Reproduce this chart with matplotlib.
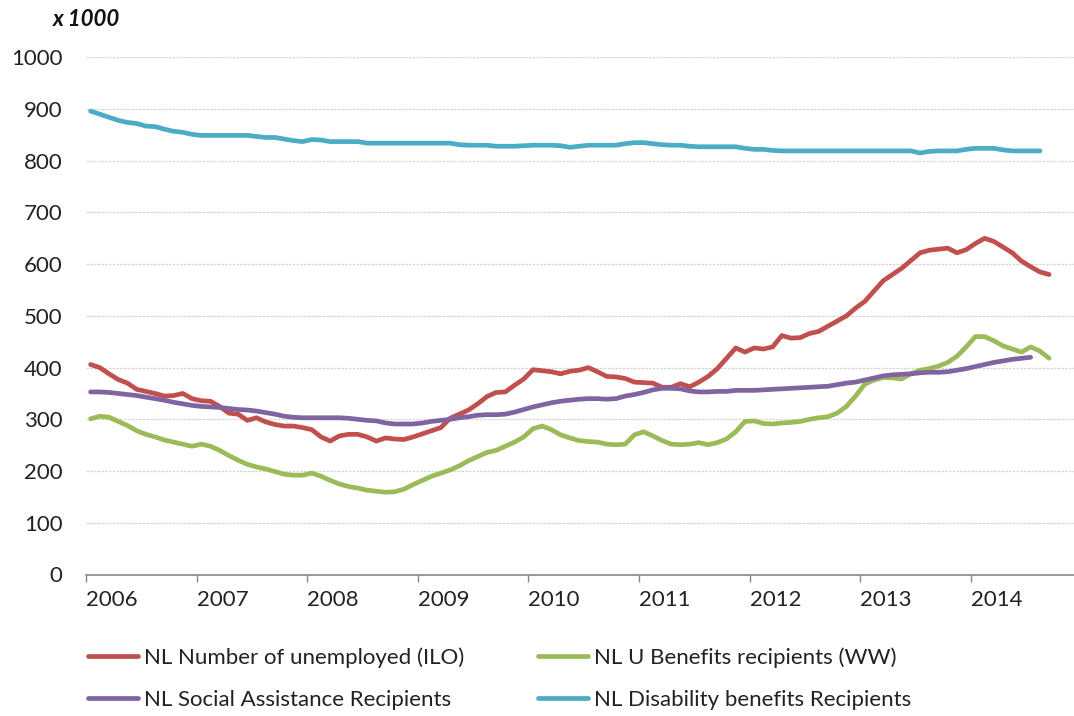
import numpy as np
import matplotlib
matplotlib.use('Agg')
import matplotlib.pyplot as plt
import matplotlib.transforms as mtransforms

# monthly series, Jan 2006 onwards (x 1000)
unemployed_ilo = [406, 400, 388, 377, 370, 358, 354, 350, 345, 346, 350, 340,
                  336, 335, 325, 312, 310, 298, 303, 295, 290, 287, 287, 284,
                  280, 266, 258, 268, 271, 271, 266, 258, 264, 262, 261, 266,
                  272, 278, 284, 302, 310, 318, 330, 344, 352, 353, 366, 378,
                  396, 394, 392, 388, 393, 395, 400, 392, 383, 382, 379, 372,
                  371, 370, 362, 362, 369, 363, 372, 383, 398, 418, 438, 430,
                  438, 436, 440, 462, 457, 458, 466, 470, 480, 490, 500, 515,
                  528, 548, 568, 580, 592, 607, 622, 627, 629, 631, 622, 628,
                  640, 650, 644, 633, 622, 606, 595, 585, 580]

u_benefits_ww = [301, 306, 304, 296, 288, 278, 271, 266, 260, 256, 252, 248,
                 252, 248, 240, 230, 221, 213, 208, 204, 199, 194, 192, 192,
                 196, 190, 182, 175, 170, 167, 163, 161, 159, 160, 165, 174,
                 182, 190, 196, 202, 210, 220, 228, 236, 240, 248, 256, 266,
                 282, 287, 280, 270, 264, 259, 257, 256, 252, 251, 252, 270,
                 276, 268, 259, 252, 251, 252, 255, 251, 255, 262, 276, 296,
                 297, 292, 291, 293, 294, 296, 300, 303, 305, 312, 325, 345,
                 368, 376, 381, 380, 378, 388, 395, 398, 403, 410, 422, 440,
                 460, 460, 452, 442, 436, 430, 440, 432, 418]

social_assistance = [353, 353, 352, 350, 348, 346, 343, 340, 337, 333, 330, 327,
                     325, 324, 323, 321, 319, 318, 316, 313, 310, 306, 304, 303,
                     303, 303, 303, 303, 302, 300, 298, 297, 293, 291, 291, 291,
                     293, 296, 298, 300, 303, 305, 308, 309, 309, 310, 314, 319,
                     324, 328, 332, 335, 337, 339, 340, 340, 339, 340, 345, 348,
                     352, 357, 360, 360, 359, 355, 353, 353, 354, 354, 356, 356,
                     356, 357, 358, 359, 360, 361, 362, 363, 364, 367, 370, 372,
                     376, 380, 384, 386, 387, 388, 390, 391, 391, 392, 395, 398,
                     402, 406, 410, 413, 416, 418, 420]

disability = [896, 890, 884, 878, 874, 872, 867, 866, 861, 857, 855, 851,
              849, 849, 849, 849, 849, 849, 847, 845, 845, 842, 839, 837,
              841, 840, 837, 837, 837, 837, 834, 834, 834, 834, 834, 834,
              834, 834, 834, 834, 831, 830, 830, 830, 828, 828, 828, 829,
              830, 830, 830, 829, 826, 828, 830, 830, 830, 830, 833, 835,
              835, 833, 831, 830, 830, 828, 827, 827, 827, 827, 827, 824,
              822, 822, 820, 819, 819, 819, 819, 819, 819, 819, 819, 819,
              819, 819, 819, 819, 819, 819, 815, 818, 819, 819, 819, 822,
              824, 824, 824, 821, 819, 819, 819, 819]

years = ['2006', '2007', '2008', '2009', '2010', '2011', '2012', '2013', '2014']

series = [
    ('NL Number of unemployed (ILO)', unemployed_ilo, '#C0504D'),
    ('NL U Benefits recipients (WW)', u_benefits_ww, '#9BBB59'),
    ('NL Social Assistance Recipients', social_assistance, '#8064A2'),
    ('NL Disability benefits Recipients', disability, '#4BACC6'),
]

plt.rcParams['font.family'] = ['Lato', 'DejaVu Sans']

fig = plt.figure(figsize=(10.74, 7.16), dpi=100)
ax = fig.add_axes([86 / 1074, (716 - 574.5) / 716, (1074 - 86) / 1074, (574.5 - 57.3) / 716])

lines = {}
for name, vals, color in series:
    x = np.arange(len(vals))
    ln, = ax.plot(x, vals, color=color, lw=3.4, solid_capstyle='round', label=name)
    lines[name] = ln

ax.set_ylim(0, 1000)
ax.set_xlim(-0.5, 106.7)
ax.set_yticks(range(0, 1001, 100))
ax.yaxis.grid(True, color='#d4d4d4', lw=0.9, linestyle=(0, (2, 1)))
ax.set_axisbelow(True)

tick_pos = [12 * i - 0.5 for i in range(len(years))]
ax.set_xticks(tick_pos)
ax.set_xticklabels(years)
offset = mtransforms.ScaledTranslation(2 / 100, 0, fig.dpi_scale_trans)
for lab in ax.get_xticklabels():
    lab.set_horizontalalignment('left')
    lab.set_transform(lab.get_transform() + offset)

for s in ['top', 'right', 'left']:
    ax.spines[s].set_visible(False)
ax.spines['bottom'].set_color('#868686')
ax.spines['bottom'].set_linewidth(1.2)
ax.tick_params(axis='x', direction='out', length=5, width=1, color='#868686',
               labelsize=16, pad=6, labelcolor='#222222')
ax.tick_params(axis='y', length=0, labelsize=16, pad=17, labelcolor='#222222')

fig.text(53 / 1074, 1 - 20 / 716, 'x 1000', fontsize=16, fontweight='bold',
         fontstyle='italic', va='center', ha='left', color='#111111')

order = ['NL Number of unemployed (ILO)', 'NL Social Assistance Recipients',
         'NL U Benefits recipients (WW)', 'NL Disability benefits Recipients']
fig.legend([lines[n] for n in order], order, ncol=2, loc='upper left',
           bbox_to_anchor=(88 / 1074, 1 - 647 / 716), frameon=False,
           fontsize=16, handlelength=2.25, handletextpad=0.27,
           columnspacing=3.3, labelspacing=1.0, borderaxespad=0, borderpad=0,
           labelcolor='#222222')

plt.savefig('out.png', dpi=100)
